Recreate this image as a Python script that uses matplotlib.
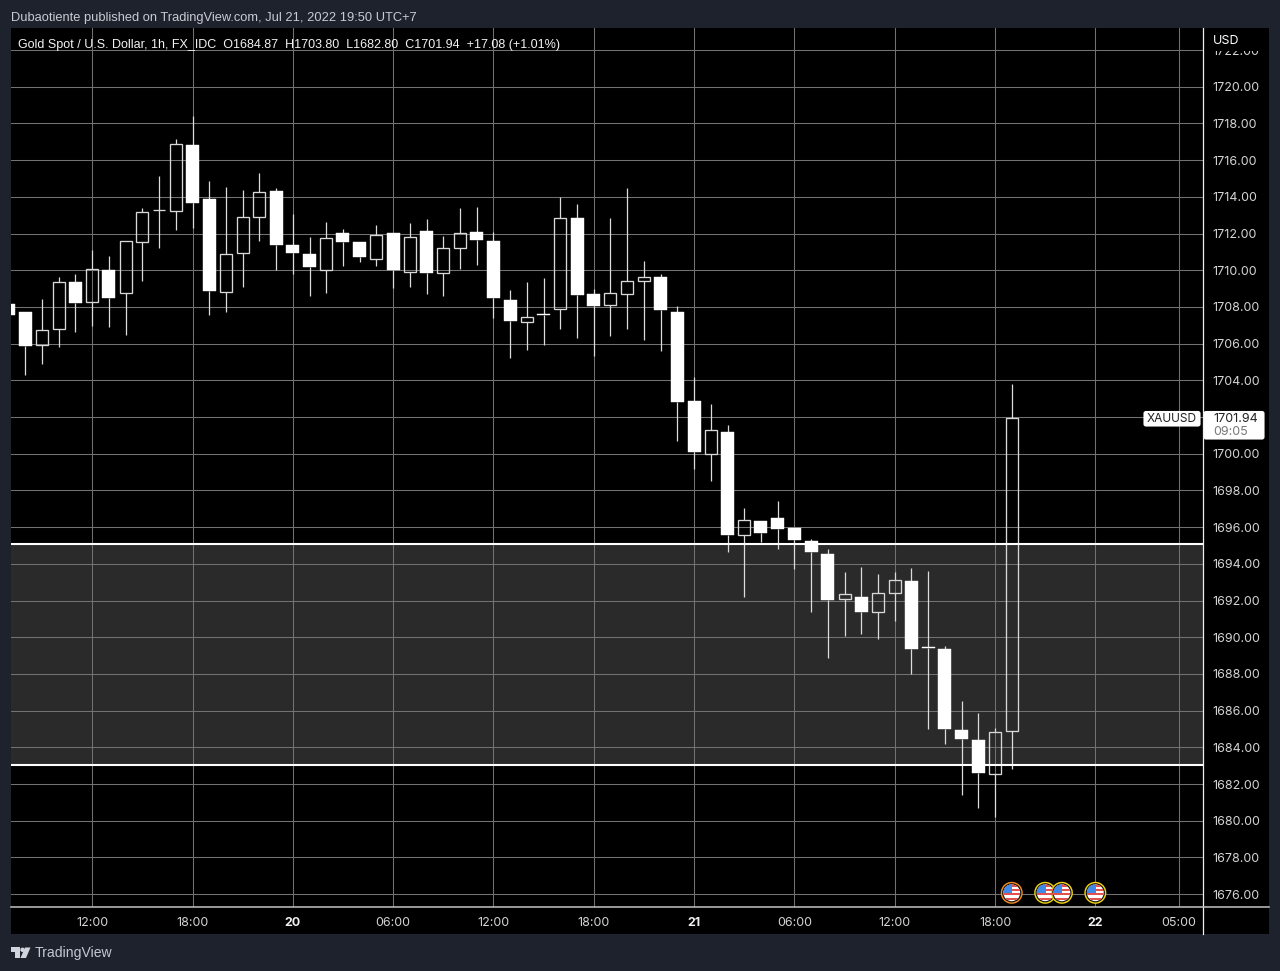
import matplotlib
matplotlib.use("Agg")
import matplotlib.pyplot as plt
from matplotlib.patches import Rectangle, Circle, FancyBboxPatch, Polygon

# bar index: hours relative to Jul 19 12:00
first_bar = -5
opens = [1708.15, 1707.70, 1705.92, 1706.79, 1709.34, 1708.25, 1709.99, 1708.74, 1711.55, 1713.26,
         1713.22, 1716.82, 1713.89, 1708.84, 1710.93, 1712.88, 1714.31, 1711.35, 1710.86, 1710.03,
         1712.04, 1711.53, 1710.62, 1712.02, 1709.89, 1712.15, 1709.86, 1711.20, 1712.09, 1711.58,
         1708.40, 1707.20, 1707.59, 1707.89, 1712.85, 1708.71, 1708.11, 1708.73, 1709.40, 1709.64,
         1707.75, 1702.85, 1699.96, 1701.19, 1695.55, 1696.31, 1696.49, 1695.95, 1695.24, 1694.55,
         1692.07, 1692.21, 1691.39, 1692.39, 1693.05, 1689.45, 1689.38, 1684.94, 1684.42, 1682.55,
         1684.87]
highs = [1708.20, 1707.75, 1708.43, 1709.61, 1709.81, 1711.10, 1710.77, 1711.62, 1713.37, 1715.13,
         1717.13, 1718.42, 1714.84, 1714.53, 1714.37, 1715.28, 1714.46, 1713.04, 1711.81, 1712.64,
         1712.25, 1711.55, 1712.45, 1712.05, 1712.56, 1712.80, 1711.87, 1713.40, 1713.44, 1712.09,
         1708.93, 1709.38, 1709.57, 1714.00, 1713.63, 1709.00, 1712.82, 1714.49, 1710.53, 1709.80,
         1708.04, 1704.19, 1702.72, 1701.54, 1697.02, 1696.31, 1697.44, 1695.95, 1695.37, 1694.79,
         1693.53, 1693.83, 1693.44, 1693.55, 1693.75, 1693.59, 1689.54, 1686.51, 1685.85, 1685.04,
         1703.80]
lows = [1707.50, 1704.29, 1704.87, 1705.79, 1706.61, 1706.97, 1706.88, 1706.48, 1709.41, 1711.22,
        1712.21, 1712.30, 1707.57, 1707.70, 1709.10, 1711.59, 1710.01, 1709.79, 1708.59, 1708.77,
        1710.22, 1710.44, 1710.22, 1709.04, 1709.11, 1708.71, 1708.62, 1710.04, 1710.29, 1707.40,
        1705.21, 1705.64, 1705.91, 1706.82, 1706.31, 1705.32, 1706.41, 1706.82, 1706.19, 1705.62,
        1700.69, 1699.16, 1698.49, 1694.66, 1692.21, 1695.17, 1694.79, 1693.70, 1691.39, 1688.89,
        1690.07, 1690.18, 1689.89, 1690.90, 1688.00, 1684.98, 1684.18, 1681.38, 1680.69, 1680.19,
        1682.80]
closes = [1707.56, 1705.88, 1706.76, 1709.34, 1708.23, 1710.08, 1708.46, 1711.57, 1713.19, 1713.28,
          1716.86, 1713.66, 1708.86, 1710.90, 1712.88, 1714.28, 1711.35, 1710.93, 1710.17, 1711.77,
          1711.56, 1710.71, 1711.93, 1710.02, 1711.80, 1709.84, 1711.20, 1712.02, 1711.67, 1708.48,
          1707.24, 1707.44, 1707.55, 1712.84, 1708.64, 1708.04, 1708.77, 1709.40, 1709.64, 1707.82,
          1702.83, 1700.11, 1701.30, 1695.55, 1696.40, 1695.66, 1695.91, 1695.30, 1694.66, 1692.03,
          1692.34, 1691.36, 1692.39, 1693.10, 1689.36, 1689.40, 1684.98, 1684.47, 1682.58, 1684.82,
          1701.94]

price_ticks = list(range(1676, 1724, 2))
time_ticks = [0, 6, 12, 18, 24, 30, 36, 42, 48, 54, 60, 65]
time_labels = ["12:00", "18:00", "20", "06:00", "12:00", "18:00", "21", "06:00", "12:00", "18:00", "22", "05:00"]
bold_labels = ["20", "21", "22"]
zone_top = 1695.08
zone_bottom = 1683.06
last_price = "1701.94"
countdown = "09:05"
events = [55, 57, 58, 60]
event_colors = ["#f28c1c", "#f2d40f", "#f2d40f", "#f2d40f"]

W, H = 1280, 971
PANEL = "#1e222d"
TICK_SIZE = 9.0
fig = plt.figure(figsize=(W / 100, H / 100), dpi=100, facecolor=PANEL)

def rect(x0, y0, x1, y1):
    return [x0 / W, 1 - y1 / H, (x1 - x0) / W, (y1 - y0) / H]

# backdrop
bg = fig.add_axes([0, 0, 1, 1], zorder=0)
bg.set_xlim(0, W); bg.set_ylim(H, 0); bg.axis("off")
bg.add_patch(Rectangle((11, 28), 1258, 906, fc="black", ec="none"))

# main chart
ax = fig.add_axes(rect(11, 28, 1203, 907), zorder=1)
ax.set_facecolor("black")
ax.set_xlim(-4.856, 66.44)
ax.set_ylim(1675.30, 1723.20)
for s in ax.spines.values():
    s.set_visible(False)

ax.axhspan(zone_bottom, zone_top, color="#2a2a2a", lw=0, zorder=1)

ax.set_yticks(price_ticks)
ax.set_yticklabels([f"{p:.2f}" for p in price_ticks], fontfamily="Inter", fontsize=TICK_SIZE, color="#d4d4d4")
ax.yaxis.tick_right()
ax.tick_params(axis="y", length=0, pad=7)
ax.set_xticks(time_ticks)
ax.set_xticklabels(time_labels, fontfamily="Inter", fontsize=TICK_SIZE, color="#d4d4d4")
for lbl in ax.get_xticklabels():
    if lbl.get_text() in bold_labels:
        lbl.set_fontweight("bold")
        lbl.set_color("#f0f0f0")
ax.tick_params(axis="x", length=0, pad=7.5)
ax.grid(True, color="#727272", lw=0.75, zorder=2)
ax.set_axisbelow(False)
for g in ax.get_xgridlines() + ax.get_ygridlines():
    g.set_zorder(2)

# candles
WICK = "#dcdcdc"
for i, (o, h, l, c) in enumerate(zip(opens, highs, lows, closes)):
    t = first_bar + i
    top, bot = max(o, c), min(o, c)
    ax.vlines(t, top, h, color=WICK, lw=0.9, zorder=3)
    ax.vlines(t, l, bot, color=WICK, lw=0.9, zorder=3)
    if c >= o:
        ax.bar(t, top - bot, bottom=bot, width=0.72, facecolor="none", edgecolor="#d8d8d8", lw=0.95, zorder=4)
    else:
        ax.bar(t, top - bot, bottom=bot, width=0.78, facecolor="white", edgecolor="white", lw=0.3, zorder=4)

ax.axhline(zone_top, color="white", lw=1.5, zorder=5)
ax.axhline(zone_bottom, color="white", lw=1.5, zorder=5)

# overlay in figure pixels
fg = fig.add_axes([0, 0, 1, 1], zorder=5)
fg.set_xlim(0, W); fg.set_ylim(H, 0); fg.axis("off"); fg.patch.set_alpha(0)

fg.plot([1203, 1203], [28, 934], color="#f0f0f0", lw=0.9)
fg.plot([11, 1269], [907, 907], color="#c4c4c4", lw=1.1)
fg.add_patch(Rectangle((1204, 28), 65, 23, fc="black", ec="none"))
fg.text(1212.5, 41, "USD", fontfamily="Inter", fontsize=TICK_SIZE, color="white", va="center", ha="left")

sans = "Liberation Sans"
fg.text(11, 17.5, "Dubaotiente published on TradingView.com, Jul 21, 2022 19:50 UTC+7",
        fontfamily=sans, fontsize=9.25, color="#c9cbd3", va="center", ha="left")
fg.text(18.5, 45, "Gold Spot / U.S. Dollar, 1h, FX_IDC  O1684.87  H1703.80  L1682.80  C1701.94  +17.08 (+1.01%)",
        fontfamily=sans, fontsize=9.02, color="#f2f2f2", va="center", ha="left")

# last price labels
fg.add_patch(FancyBboxPatch((1144, 411.5), 56, 14.5, boxstyle="round,pad=0,rounding_size=2", fc="white", ec="white", lw=0.8))
fg.add_patch(FancyBboxPatch((1204, 411.5), 60, 27.5, boxstyle="round,pad=0,rounding_size=2", fc="white", ec="white", lw=0.8))
fg.text(1171.5, 419, "XAUUSD", fontfamily="Inter", fontsize=8.6, color="#222222", va="center", ha="center")
fg.text(1213, 419, last_price, fontfamily="Inter", fontsize=TICK_SIZE, color="#222222", va="center", ha="left")
fg.text(1213, 432, countdown, fontfamily="Inter", fontsize=TICK_SIZE, color="#777777", va="center", ha="left")

# economic event flags
for t, col in zip(events, event_colors):
    cx = ax.transData.transform((t, 0))[0]
    cy = 892.8
    fg.add_patch(Circle((cx, cy), 11, fc=col, ec="none", zorder=6))
    fg.add_patch(Circle((cx, cy), 9.6, fc="#141414", ec="none", zorder=6))
    disc = Circle((cx, cy), 8.4, fc="white", ec="none", zorder=6)
    fg.add_patch(disc)
    for k in range(4):
        stripe = Rectangle((cx - 9, cy - 8.4 + k * 4.4), 18, 2.2, fc="#e2504f", ec="none", zorder=7)
        fg.add_patch(stripe)
        stripe.set_clip_path(disc)
    canton = Rectangle((cx - 9, cy - 9), 9.5, 9, fc="#3f8ae8", ec="none", zorder=8)
    fg.add_patch(canton)
    canton.set_clip_path(disc)

# TradingView logo
LOGO = "#d1d4dc"
fg.add_patch(Polygon([(11, 947.5), (20, 947.5), (20, 958), (15, 958), (15, 952), (11, 952)], fc=LOGO, ec="none"))
fg.add_patch(Circle((22.5, 949.8), 2.2, fc=LOGO, ec="none"))
fg.add_patch(Polygon([(25, 947.5), (30.5, 947.5), (26, 958), (20.5, 958)], fc=LOGO, ec="none"))
fg.text(34.5, 953.5, "TradingView", fontfamily=sans, fontsize=10.1, color="#c5c8d0", va="center", ha="left")

fig.savefig("out.png", dpi=100, facecolor=PANEL)
